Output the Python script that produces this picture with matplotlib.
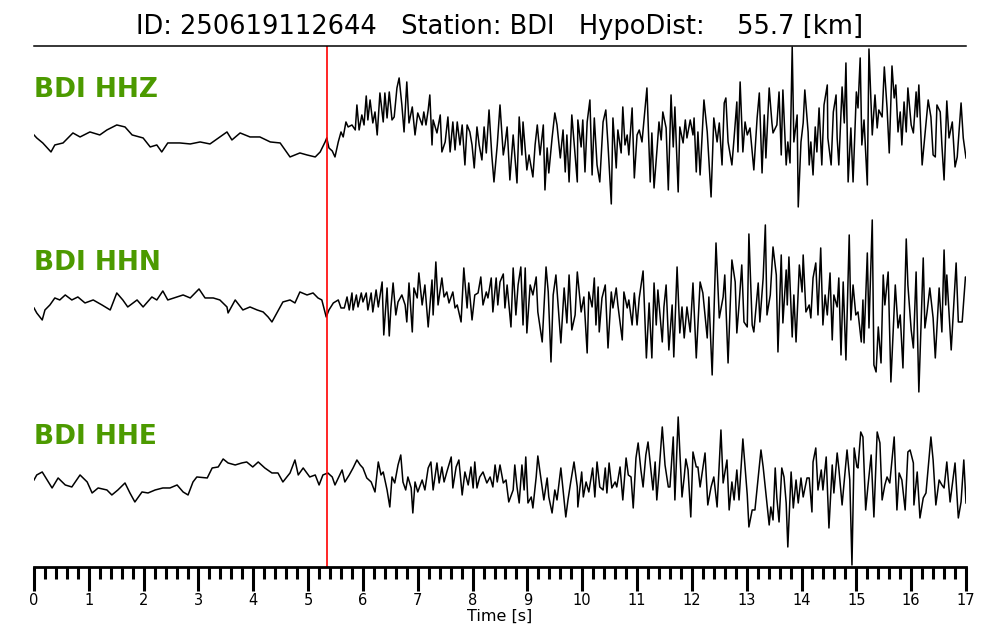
import numpy as np
import matplotlib
matplotlib.use('Agg')
import matplotlib.pyplot as plt
from matplotlib.ticker import MultipleLocator

event_id = '250619112644'
station = 'BDI'
hypo_dist = 55.7
p_pick = 5.35  # s
channels = ['HHZ', 'HHN', 'HHE']

# (time [s], amplitude [scaled counts])
hhz = [(0.00, 5), (0.05, 2), (0.16, -3), (0.31, -12), (0.38, -5), (0.53, -3), (0.71, 7), (0.84, 3),
       (1.02, 8), (1.20, 5), (1.33, 10), (1.51, 15), (1.66, 13), (1.79, 5), (1.99, 2), (2.12, -7),
       (2.24, -5), (2.33, -12), (2.44, -3), (2.66, -3), (2.85, -4), (3.03, -2), (3.21, -4), (3.39, 3),
       (3.52, 8), (3.61, 0), (3.76, 7), (3.94, 3), (4.12, 3), (4.31, -2), (4.49, -3), (4.58, -10),
       (4.67, -17), (4.85, -13), (4.98, -15), (5.13, -17), (5.22, -12), (5.31, -2), (5.34, 2), (5.38, -8),
       (5.44, -11), (5.49, -17), (5.55, -2), (5.60, 8), (5.64, 3), (5.69, 18), (5.73, 13), (5.80, 15),
       (5.86, 10), (5.89, 35), (5.93, 10), (5.98, 25), (6.02, 15), (6.06, 44), (6.09, 20), (6.13, 40),
       (6.18, 17), (6.22, 28), (6.26, 5), (6.31, 47), (6.37, 18), (6.40, 47), (6.44, 22), (6.48, 48),
       (6.53, 20), (6.57, 23), (6.62, 52), (6.66, 62), (6.71, 35), (6.75, 8), (6.80, 58), (6.84, 17),
       (6.90, 33), (6.95, 5), (7.00, 27), (7.08, 15), (7.11, 28), (7.15, 15), (7.19, 30), (7.22, 45),
       (7.26, -5), (7.28, 20), (7.35, 7), (7.41, 25), (7.44, -12), (7.50, -2), (7.55, 23), (7.59, -12),
       (7.64, 18), (7.68, -10), (7.72, 18), (7.77, -5), (7.81, 15), (7.86, -25), (7.90, 15), (7.95, 8),
       (7.99, -5), (8.03, -28), (8.08, 13), (8.12, -5), (8.17, -20), (8.21, 13), (8.25, -13), (8.30, 30),
       (8.35, -15), (8.39, -42), (8.45, -5), (8.50, 35), (8.56, -15), (8.59, -5), (8.63, 13), (8.68, -40),
       (8.74, 5), (8.77, -15), (8.81, -43), (8.85, 23), (8.90, -15), (8.92, 18), (8.99, -30), (9.03, -15),
       (9.10, -37), (9.14, -5), (9.18, 15), (9.23, -15), (9.29, 15), (9.32, -50), (9.36, -8), (9.39, -33),
       (9.45, 2), (9.50, 27), (9.54, 15), (9.60, -18), (9.65, 10), (9.69, -32), (9.72, 5), (9.76, -42),
       (9.81, 25), (9.85, -2), (9.91, -42), (9.92, 20), (9.98, -7), (10.01, 20), (10.05, -32), (10.09, 18),
       (10.14, 40), (10.18, -35), (10.22, 22), (10.27, -25), (10.32, -42), (10.38, 18), (10.43, 30),
       (10.47, -5), (10.53, -64), (10.56, 22), (10.62, -28), (10.65, 10), (10.71, -13), (10.74, 33),
       (10.78, -5), (10.82, 5), (10.85, -15), (10.91, 32), (10.95, -38), (11.00, 5), (11.04, 10),
       (11.09, -2), (11.18, 52), (11.24, -42), (11.27, 7), (11.31, -48), (11.37, -5), (11.40, 18),
       (11.44, 0), (11.47, 28), (11.53, 12), (11.57, -50), (11.62, 45), (11.66, -7), (11.69, 33),
       (11.75, -52), (11.78, 13), (11.84, -3), (11.88, 20), (11.91, 2), (11.97, 20), (12.02, 5),
       (12.04, 22), (12.08, -32), (12.11, 8), (12.15, -35), (12.22, 40), (12.28, 8), (12.35, -57),
       (12.40, 22), (12.46, -2), (12.50, 17), (12.55, -25), (12.59, 37), (12.62, 42), (12.66, -2),
       (12.73, -25), (12.77, 2), (12.82, 38), (12.84, -12), (12.88, 58), (12.93, -12), (12.97, 18),
       (13.01, 5), (13.06, 12), (13.13, -30), (13.19, 22), (13.23, 47), (13.28, -33), (13.32, 25),
       (13.35, -18), (13.41, 52), (13.46, 17), (13.48, 7), (13.55, 15), (13.59, 48), (13.63, -15),
       (13.66, 50), (13.72, -25), (13.75, -2), (13.79, -23), (13.83, 93), (13.86, -2), (13.92, 25),
       (13.94, -67), (13.99, -2), (14.03, 17), (14.06, 50), (14.12, 8), (14.14, -25), (14.17, -2),
       (14.21, -35), (14.25, 13), (14.28, -12), (14.32, 32), (14.37, -25), (14.41, 35), (14.47, 55),
       (14.48, 2), (14.54, -25), (14.58, 28), (14.63, 45), (14.65, 2), (14.68, -25), (14.74, 53),
       (14.78, 17), (14.81, 77), (14.85, -42), (14.90, 12), (14.94, -42), (15.00, 48), (15.03, 32),
       (15.07, 82), (15.10, -5), (15.14, 20), (15.20, -45), (15.23, 91), (15.29, 5), (15.34, 45),
       (15.38, 12), (15.41, 30), (15.47, 23), (15.51, 73), (15.56, 32), (15.60, -13), (15.65, 74),
       (15.69, 42), (15.72, 55), (15.76, 8), (15.80, 28), (15.83, -5), (15.87, 38), (15.91, 8),
       (15.94, 52), (16.00, 15), (16.04, 7), (16.09, 48), (16.11, 23), (16.14, 55), (16.20, -25),
       (16.25, 5), (16.31, 40), (16.36, 23), (16.40, -15), (16.44, -17), (16.47, 35), (16.53, 28),
       (16.56, -5), (16.60, -40), (16.65, 39), (16.69, 2), (16.75, 18), (16.80, -27), (16.84, -17),
       (16.91, 37), (16.95, 2), (17.00, -18)]

hhn = [(0.00, -3), (0.05, -8), (0.15, -15), (0.20, -5), (0.29, 0), (0.38, 7), (0.47, 5), (0.57, 10),
       (0.69, 5), (0.80, 8), (0.93, 2), (1.08, 5), (1.24, 0), (1.39, -5), (1.51, 12), (1.62, 5),
       (1.71, -2), (1.88, 5), (1.99, -2), (2.15, 8), (2.24, 5), (2.35, 14), (2.44, 5), (2.61, 8),
       (2.72, 10), (2.85, 7), (3.01, 16), (3.12, 7), (3.27, 7), (3.39, 5), (3.52, -2), (3.54, -8),
       (3.67, 5), (3.81, -5), (3.94, -2), (4.07, -5), (4.18, -7), (4.27, -12), (4.34, -17), (4.43, -8),
       (4.54, 3), (4.67, 5), (4.76, 2), (4.85, 13), (4.98, 10), (5.09, 12), (5.18, 7), (5.25, 5),
       (5.33, -12), (5.38, -5), (5.46, 2), (5.55, 5), (5.60, -3), (5.66, -3), (5.71, 8), (5.75, -5),
       (5.80, 12), (5.82, -5), (5.88, 10), (5.91, -2), (5.97, 12), (6.00, 3), (6.06, 12), (6.09, -5),
       (6.15, 12), (6.18, -7), (6.24, 15), (6.28, -2), (6.35, 23), (6.38, -30), (6.44, 17), (6.48, -31),
       (6.51, -3), (6.55, 22), (6.60, -10), (6.64, 3), (6.71, 10), (6.77, 0), (6.80, -17), (6.84, 22),
       (6.90, -27), (6.93, 17), (6.99, 7), (7.02, 32), (7.08, 0), (7.13, 20), (7.19, -22), (7.26, 25),
       (7.28, -10), (7.33, 43), (7.37, 0), (7.44, 27), (7.48, 8), (7.53, 13), (7.57, 2), (7.64, 13),
       (7.68, -3), (7.72, 0), (7.79, -17), (7.84, 37), (7.90, -3), (7.93, 22), (7.99, -15), (8.04, 10),
       (8.10, 12), (8.15, 28), (8.19, 0), (8.25, 13), (8.28, 7), (8.34, 27), (8.37, -7), (8.43, 27),
       (8.46, 0), (8.50, 23), (8.56, 31), (8.59, -3), (8.63, 20), (8.70, -22), (8.74, 37), (8.79, -10),
       (8.83, 20), (8.88, 38), (8.92, -20), (8.96, 37), (8.99, -28), (9.05, 20), (9.10, 10), (9.16, 28),
       (9.19, -7), (9.27, -37), (9.34, 38), (9.38, 13), (9.43, -57), (9.47, 10), (9.52, 30), (9.56, 0),
       (9.61, -38), (9.67, 17), (9.72, -18), (9.76, 30), (9.81, -25), (9.87, -10), (9.91, 33),
       (9.98, -7), (10.03, 8), (10.09, -48), (10.12, 13), (10.18, -2), (10.22, 27), (10.25, -20),
       (10.29, 18), (10.31, -27), (10.36, 7), (10.42, 20), (10.47, -43), (10.53, 13), (10.56, -3),
       (10.62, 17), (10.65, 0), (10.73, -35), (10.76, 13), (10.82, -3), (10.85, 5), (10.91, -20),
       (10.95, 12), (11.00, -20), (11.04, 7), (11.11, 34), (11.17, -53), (11.22, 2), (11.27, -53),
       (11.31, 22), (11.35, -20), (11.38, 15), (11.46, -37), (11.49, -2), (11.53, 20), (11.58, -45),
       (11.64, 0), (11.67, -52), (11.73, 38), (11.78, -28), (11.82, -2), (11.86, -33), (11.91, -2),
       (11.97, -27), (12.02, 22), (12.08, -53), (12.15, 23), (12.20, 12), (12.28, -33), (12.31, 8),
       (12.37, -70), (12.44, 62), (12.50, -13), (12.57, 8), (12.60, 30), (12.66, -58), (12.73, 45),
       (12.79, 23), (12.82, -28), (12.86, 0), (12.91, 40), (12.95, -17), (13.01, -22), (13.04, 71),
       (13.10, -20), (13.13, -27), (13.21, 22), (13.24, -17), (13.30, 27), (13.34, 80), (13.37, -10),
       (13.43, 10), (13.48, 58), (13.54, 30), (13.57, -47), (13.63, 50), (13.66, -18), (13.72, 35),
       (13.74, 0), (13.77, 48), (13.83, -32), (13.86, 10), (13.90, -37), (13.96, 40), (14.01, 13),
       (14.03, 50), (14.08, -7), (14.14, 0), (14.17, -13), (14.21, 27), (14.26, 42), (14.30, -10),
       (14.35, 57), (14.39, -20), (14.43, 10), (14.47, -10), (14.52, 32), (14.56, -35), (14.59, 10),
       (14.65, -2), (14.68, 27), (14.72, -50), (14.76, 23), (14.81, -55), (14.87, 70), (14.90, -15),
       (14.94, 20), (14.99, -10), (15.03, -7), (15.09, -37), (15.12, 5), (15.14, -38), (15.20, 52),
       (15.23, -23), (15.29, 85), (15.32, -60), (15.36, -67), (15.40, -22), (15.45, -58), (15.49, 30),
       (15.52, 0), (15.58, 33), (15.63, -77), (15.71, 20), (15.76, -23), (15.80, -10), (15.85, -63),
       (15.91, 66), (15.94, 20), (16.00, -25), (16.04, -43), (16.09, 33), (16.14, -87), (16.22, 47),
       (16.25, -23), (16.29, -7), (16.34, 17), (16.40, -13), (16.44, -53), (16.51, 17), (16.56, -27),
       (16.60, 55), (16.63, 0), (16.65, 30), (16.73, -45), (16.82, 42), (16.86, -17), (16.93, -17),
       (16.99, 28), (17.00, 27)]

hhe = [(0.00, -2), (0.05, 3), (0.15, 6), (0.24, -2), (0.33, -10), (0.44, 0), (0.57, -7), (0.69, -9),
       (0.84, 3), (0.97, -4), (1.06, -15), (1.17, -10), (1.33, -12), (1.42, -17), (1.53, -12),
       (1.66, -5), (1.75, -15), (1.84, -24), (1.97, -14), (2.08, -15), (2.21, -12), (2.35, -10),
       (2.48, -10), (2.61, -7), (2.72, -14), (2.81, -17), (2.90, -4), (2.97, 1), (3.16, 0), (3.25, 10),
       (3.36, 11), (3.45, 19), (3.54, 15), (3.67, 13), (3.79, 15), (3.88, 16), (3.99, 11), (4.09, 16),
       (4.21, 10), (4.34, 5), (4.45, 5), (4.54, -4), (4.67, 5), (4.76, 18), (4.82, 3), (4.91, 10),
       (5.03, 1), (5.13, 3), (5.20, -7), (5.27, 3), (5.36, 5), (5.44, 1), (5.49, -7), (5.55, 0),
       (5.62, 8), (5.67, -4), (5.75, 3), (5.82, 10), (5.89, 18), (5.95, 13), (6.00, 10), (6.07, 0),
       (6.15, -4), (6.22, -14), (6.28, 16), (6.33, 3), (6.37, 6), (6.44, -12), (6.49, -29), (6.53, 1),
       (6.58, -5), (6.64, 13), (6.69, 23), (6.73, -4), (6.78, -12), (6.82, 1), (6.88, -10), (6.91, -35),
       (6.95, -4), (7.00, -14), (7.08, -2), (7.13, -12), (7.19, 10), (7.24, 16), (7.28, -12), (7.35, 15),
       (7.39, -5), (7.44, 11), (7.48, -4), (7.53, 6), (7.61, 21), (7.64, -10), (7.70, 11), (7.75, 18),
       (7.81, -17), (7.86, 6), (7.92, -7), (7.97, 11), (8.01, -10), (8.04, 16), (8.08, -10), (8.13, 1),
       (8.19, 6), (8.26, -5), (8.32, 1), (8.37, -9), (8.41, 13), (8.45, -4), (8.50, 13), (8.56, -5),
       (8.61, -2), (8.66, -24), (8.74, -12), (8.77, 13), (8.81, -9), (8.85, -25), (8.90, 13), (8.94, -12),
       (8.97, 21), (9.01, -25), (9.07, -19), (9.10, -30), (9.16, 1), (9.19, 22), (9.25, -2), (9.30, -22),
       (9.36, 0), (9.39, -19), (9.45, -35), (9.50, -12), (9.54, -22), (9.61, 10), (9.65, -12),
       (9.70, -39), (9.74, -22), (9.79, -4), (9.85, 16), (9.91, -9), (9.92, -29), (9.99, 6), (10.02, -19),
       (10.07, -4), (10.12, -14), (10.19, 10), (10.23, -19), (10.27, 16), (10.32, -9), (10.38, -12),
       (10.42, 10), (10.45, -15), (10.49, 15), (10.54, -10), (10.60, -4), (10.63, -9), (10.69, 11),
       (10.74, -22), (10.80, 20), (10.84, 3), (10.89, 1), (10.93, -30), (10.98, 20), (11.02, 35),
       (11.07, 8), (11.11, -9), (11.16, 23), (11.20, 36), (11.29, -12), (11.33, 16), (11.36, -22),
       (11.40, 5), (11.46, 51), (11.51, 13), (11.57, -9), (11.60, -9), (11.66, 41), (11.69, -22),
       (11.75, 61), (11.82, -19), (11.86, 1), (11.89, 19), (11.93, 8), (11.98, -39), (12.02, 26),
       (12.08, 11), (12.11, 11), (12.15, -9), (12.24, 25), (12.29, -27), (12.35, -9), (12.40, 1),
       (12.46, -29), (12.53, 48), (12.57, -5), (12.64, 18), (12.68, -32), (12.73, -4), (12.77, -22),
       (12.82, 8), (12.86, -22), (12.93, 39), (13.01, -17), (13.04, -49), (13.10, -32), (13.15, -32),
       (13.21, 1), (13.26, 28), (13.30, 11), (13.35, -15), (13.41, -47), (13.44, -29), (13.48, -42),
       (13.52, 10), (13.55, -20), (13.59, -44), (13.64, 10), (13.68, 1), (13.72, -25), (13.75, -69),
       (13.81, 6), (13.85, -30), (13.90, -2), (13.94, -25), (13.99, 0), (14.03, -19), (14.10, 0),
       (14.14, 0), (14.19, -34), (14.21, 16), (14.26, 30), (14.30, -12), (14.36, 8), (14.39, -12),
       (14.45, 21), (14.50, -50), (14.56, 13), (14.59, -15), (14.65, 25), (14.68, 10), (14.74, -27),
       (14.78, -2), (14.83, 28), (14.88, -2), (14.92, -87), (14.96, 30), (15.01, 11), (15.03, 10),
       (15.08, 46), (15.12, 41), (15.17, -32), (15.21, -9), (15.27, 23), (15.32, -39), (15.38, 46),
       (15.43, 35), (15.47, -22), (15.52, -7), (15.56, 1), (15.61, -5), (15.69, 41), (15.74, -32),
       (15.78, 5), (15.83, -2), (15.89, -32), (15.94, 26), (15.98, 28), (16.04, 15), (16.05, -27),
       (16.11, 6), (16.16, -40), (16.22, -20), (16.27, -15), (16.36, 41), (16.40, 18), (16.45, -27),
       (16.51, -2), (16.56, -7), (16.60, -10), (16.65, 16), (16.71, -24), (16.80, 15), (16.86, -40),
       (16.91, -24), (16.96, 18), (17.00, -25)]

traces = [hhz, hhn, hhe]

# layout: trace baselines and label heights in the stacked axis
offsets = [427, 262, 89]
label_y = [477, 304, 130]

fig = plt.figure(figsize=(10, 6.4), dpi=100)
ax = fig.add_axes([0.034, 0.1141, 0.932, 0.8141])

for cha, pts, off, ly in zip(channels, traces, offsets, label_y):
    t, amp = np.array(pts, dtype=float).T
    ax.plot(t, amp + off, color='black', lw=1.1)
    ax.text(0, ly, station + ' ' + cha, color='#4c9a00', fontsize=19,
            fontweight='bold', ha='left', va='center')

ax.axvline(p_pick, color='red', lw=1.2)

ax.set_xlim(0, 17)
ax.set_ylim(0, 521)
ax.spines['left'].set_visible(False)
ax.spines['right'].set_visible(False)
ax.spines['top'].set_linewidth(1.1)
ax.spines['bottom'].set_linewidth(2)
ax.set_yticks([])
ax.xaxis.set_major_locator(MultipleLocator(1))
ax.xaxis.set_minor_locator(MultipleLocator(0.2))
ax.tick_params(axis='x', which='major', length=17, width=2.2, labelsize=10.5, pad=2)
ax.tick_params(axis='x', which='minor', length=8.5, width=2.2)
ax.set_xlabel('Time [s]', fontsize=11.5, labelpad=0)

fig.text(0.5, 0.958, f'ID: {event_id}   Station: {station}   HypoDist:    {hypo_dist} [km]',
         ha='center', va='center', fontsize=18.5)

fig.savefig('out.png', dpi=100)
